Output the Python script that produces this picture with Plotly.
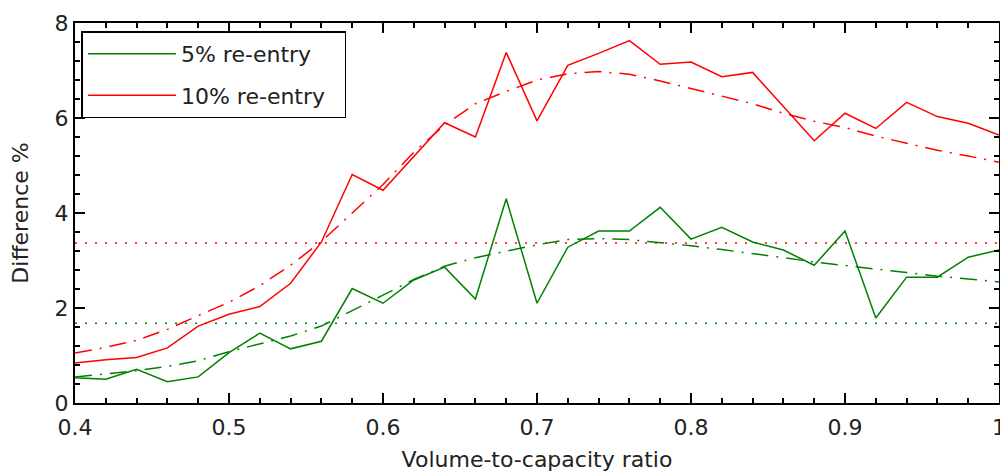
import plotly.graph_objects as go

x = [0.40, 0.42, 0.44, 0.46, 0.48, 0.50, 0.52, 0.54, 0.56, 0.58, 0.60,
     0.62, 0.64, 0.66, 0.68, 0.70, 0.72, 0.74, 0.76, 0.78, 0.80,
     0.82, 0.84, 0.86, 0.88, 0.90, 0.92, 0.94, 0.96, 0.98, 1.00]

green_obs = [0.53, 0.50, 0.71, 0.45, 0.55, 1.06, 1.47, 1.14, 1.30, 2.41, 2.10,
             2.59, 2.86, 2.19, 4.30, 2.10, 3.28, 3.62, 3.62, 4.12, 3.45,
             3.70, 3.39, 3.22, 2.90, 3.62, 1.79, 2.65, 2.65, 3.07, 3.22]
red_obs = [0.84, 0.91, 0.96, 1.16, 1.62, 1.87, 2.03, 2.52, 3.39, 4.81, 4.48,
           5.18, 5.90, 5.60, 7.38, 5.94, 7.11, 7.36, 7.63, 7.13, 7.18,
           6.87, 6.96, 6.24, 5.52, 6.10, 5.78, 6.33, 6.03, 5.89, 5.64]

green_fit = [0.55, 0.61, 0.68, 0.77, 0.89, 1.08, 1.24, 1.41, 1.62, 1.94, 2.27,
             2.60, 2.88, 3.06, 3.20, 3.33, 3.44, 3.46, 3.44, 3.38, 3.31,
             3.23, 3.15, 3.06, 2.97, 2.89, 2.82, 2.75, 2.67, 2.61, 2.55]
red_fit = [1.05, 1.17, 1.32, 1.55, 1.84, 2.12, 2.47, 2.90, 3.40, 4.00, 4.60,
           5.28, 5.85, 6.30, 6.56, 6.80, 6.93, 6.98, 6.92, 6.78, 6.62,
           6.46, 6.30, 6.10, 5.93, 5.80, 5.62, 5.47, 5.32, 5.20, 5.07]

ref_x = [0.4, 1.0]
green_ref = [1.68, 1.68]
red_ref = [3.37, 3.37]

x_ticks = [0.4, 0.5, 0.6, 0.7, 0.8, 0.9, 1.0]
x_ticktext = ["0.4", "0.5", "0.6", "0.7", "0.8", "0.9", "1"]
y_ticks = [0, 2, 4, 6, 8]

series_names = ["5% re-entry\u00a0\u00a0", "10% re-entry\u00a0\u00a0"]
GREEN = "rgb(0,128,0)"
RED = "rgb(255,0,0)"

fig = go.Figure()
fig.add_trace(go.Scatter(x=ref_x, y=green_ref, mode="lines", showlegend=False,
                         line=dict(color=GREEN, width=1.5, dash="2px,8px")))
fig.add_trace(go.Scatter(x=ref_x, y=red_ref, mode="lines", showlegend=False,
                         line=dict(color=RED, width=1.5, dash="2px,8px")))
fig.add_trace(go.Scatter(x=x, y=green_fit, mode="lines", showlegend=False,
                         line=dict(color=GREEN, width=1.5, dash="17px,8px,2px,8px")))
fig.add_trace(go.Scatter(x=x, y=red_fit, mode="lines", showlegend=False,
                         line=dict(color=RED, width=1.5, dash="17px,8px,2px,8px")))
fig.add_trace(go.Scatter(x=x, y=green_obs, mode="lines", name=series_names[0],
                         legendgroup="g1", line=dict(color=GREEN, width=1.5)))
fig.add_trace(go.Scatter(x=x, y=red_obs, mode="lines", name=series_names[1],
                         legendgroup="g2", line=dict(color=RED, width=1.5)))

FONT = "DejaVu Sans"
TXT = "#222"
axis_common = dict(
    showgrid=False, zeroline=False, showline=True, linecolor="black", linewidth=2,
    mirror="ticks", ticks="inside", tickcolor="black", tickwidth=1.5,
    tickfont=dict(family=FONT, size=22, color=TXT), automargin=False,
)
fig.update_xaxes(range=[0.4, 1.0], tickvals=x_ticks, ticktext=x_ticktext, ticklen=10,
                 ticklabeloverflow="allow", ticklabelstandoff=4,
                 minor=dict(dtick=0.02, ticks="inside", ticklen=5, tickcolor="black", tickwidth=1.5),
                 title=dict(text="Volume-to-capacity ratio", standoff=12,
                            font=dict(family=FONT, size=22, color=TXT)),
                 **axis_common)
fig.update_yaxes(range=[0, 8], tickvals=y_ticks, ticklen=10,
                 minor=dict(dtick=0.4, ticks="inside", ticklen=5, tickcolor="black", tickwidth=1.5),
                 title=dict(text="Difference %", standoff=20,
                            font=dict(family=FONT, size=22, color=TXT)),
                 **axis_common)

fig.update_layout(
    width=1000, height=475,
    margin=dict(l=75, r=1, t=23, b=72),
    paper_bgcolor="white", plot_bgcolor="white",
    legend=dict(x=0.007, y=0.978, xanchor="left", yanchor="top",
                bgcolor="white", bordercolor="black", borderwidth=1.5,
                font=dict(family=FONT, size=22, color=TXT),
                itemwidth=88, tracegroupgap=10),
)

fig.write_html("out.html")
